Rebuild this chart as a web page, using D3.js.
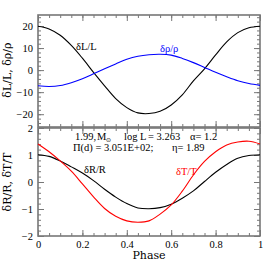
<!DOCTYPE html>
<html>
<head>
<meta charset="utf-8">
<script src="https://cdn.jsdelivr.net/npm/d3@7"></script>
<style>
  body { margin: 0; background: #fff; }
  text { font-family: "Liberation Serif", serif; }
</style>
</head>
<body>
<div class="chart"></div>
<script>
// pulsation phase and the four relative variations
var phase = [0, 0.05, 0.1, 0.15, 0.2, 0.25, 0.3, 0.35, 0.4, 0.45, 0.5,
             0.55, 0.6, 0.65, 0.7, 0.75, 0.8, 0.85, 0.9, 0.95, 1];
var dL = [19.9, 18.7, 15.8, 11.2, 5.4, -1.0, -7.1, -12.9, -17.0, -19.4, -19.7,
          -18.7, -15.8, -11.2, -4.9, 0.6, 6.9, 12.8, 17.0, 19.2, 19.9];
var dRho = [-7.1, -7.4, -7.0, -5.7, -3.9, -1.7, 0.6, 2.8, 4.9, 6.3, 7.0,
            7.2, 6.8, 5.3, 3.4, 1.2, -1.0, -3.0, -4.8, -6.1, -6.9];
var dR = [1.01, 0.95, 0.78, 0.56, 0.33, 0.05, -0.27, -0.56, -0.80, -0.96, -0.99,
          -0.95, -0.82, -0.60, -0.33, 0.02, 0.36, 0.65, 0.88, 0.98, 1.01];
var dT = [1.41, 1.12, 0.78, 0.40, -0.07, -0.55, -0.98, -1.27, -1.44, -1.49, -1.44,
          -1.19, -0.85, -0.34, 0.26, 0.76, 1.12, 1.37, 1.48, 1.51, 1.41];

var xTicks = [0, 0.2, 0.4, 0.6, 0.8, 1];
var topTicks = [-20, -10, 0, 10, 20];
var botTicks = [-2, -1, 0, 1, 2];

var svgWidth = 274;
var svgHeight = 274;

var svg = d3.select(".chart")
  .append("svg")
  .attr("width", svgWidth)
  .attr("height", svgHeight);

var x = d3.scaleLinear().domain([0, 1]).range([38, 260]);
var yTop = d3.scaleLinear().domain([-25.8, 25]).range([127, 15]);
var yBot = d3.scaleLinear().domain([-2, 2]).range([236, 128]);

var frameColor = "#777";

function minor(scale, step) {
  var d = scale.domain();
  var lo = Math.min(d[0], d[1]), hi = Math.max(d[0], d[1]);
  return d3.range(Math.ceil(lo / step) * step, hi + 1e-9, step);
}

// draws one panel: frame, inward ticks on all sides, labels left (and bottom)
function panel(y, majors, minorStep, showX) {
  var x0 = x.range()[0], x1 = x.range()[1];
  var yb = y.range()[0], yt = y.range()[1];
  var g = svg.append("g");

  var sides = [
    { axis: d3.axisBottom, scale: x, t: "translate(0," + yb + ")", maj: xTicks, mstep: 0.05, lab: showX },
    { axis: d3.axisTop, scale: x, t: "translate(0," + yt + ")", maj: xTicks, mstep: 0.05, lab: false },
    { axis: d3.axisLeft, scale: y, t: "translate(" + x0 + ",0)", maj: majors, mstep: minorStep, lab: true },
    { axis: d3.axisRight, scale: y, t: "translate(" + x1 + ",0)", maj: majors, mstep: minorStep, lab: false }
  ];

  sides.forEach(function(s) {
    var ag = g.append("g").attr("transform", s.t);
    ag.append("g")
      .call(s.axis(s.scale).tickValues(minor(s.scale, s.mstep)).tickSize(-3).tickFormat(""))
      .call(function(a) { a.select(".domain").remove(); });
    var mg = ag.append("g")
      .call(s.axis(s.scale).tickValues(s.maj).tickSize(-6).tickPadding(5)
        .tickFormat(s.lab ? d3.format("") : ""))
      .call(function(a) { a.select(".domain").remove(); });
    ag.selectAll("line").attr("stroke", frameColor).attr("stroke-width", 1);
    mg.selectAll("text")
      .style("font-family", "Liberation Serif, serif")
      .style("font-size", "10.5px")
      .attr("fill", "#000");
  });

  g.append("rect")
    .attr("x", x0).attr("y", yt)
    .attr("width", x1 - x0).attr("height", yb - yt)
    .attr("fill", "none")
    .attr("stroke", frameColor)
    .attr("stroke-width", 1.6);
  return g;
}

panel(yTop, topTicks, 2, false);
panel(yBot, botTicks, 0.2, true);

function curve(y, values, color) {
  var line = d3.line()
    .x(function(d, i) { return x(phase[i]); })
    .y(function(d) { return y(d); })
    .curve(d3.curveCatmullRom);
  svg.append("path")
    .datum(values)
    .attr("d", line)
    .attr("fill", "none")
    .attr("stroke", color)
    .attr("stroke-width", 1.1);
}

curve(yTop, dL, "#000");
curve(yTop, dRho, "#0000ff");
curve(yBot, dR, "#000");
curve(yBot, dT, "#ff0000");

// curve labels
function label(xp, yp, txt, color) {
  svg.append("text")
    .attr("x", xp).attr("y", yp)
    .attr("fill", color)
    .style("font-size", "10.5px")
    .text(txt);
}
label(76, 50, "δL/L", "#000");
label(160, 52, "δρ/ρ", "#0000ff");
label(84, 173, "δR/R", "#000");
label(176, 175, "δT/T", "#ff0000");

// model parameters
var info = svg.append("g").style("font-size", "10.5px").attr("fill", "#000");
info.append("text").attr("x", 75).attr("y", 140).text("1.99,");
var m = info.append("text").attr("x", 97).attr("y", 140);
m.append("tspan").text("M");
m.append("tspan").attr("dy", 2).style("font-size", "6px").text("⊙");
info.append("text").attr("x", 124).attr("y", 140).text("log L");
info.append("text").attr("x", 148).attr("y", 140).text("= 3.263");
info.append("text").attr("x", 190).attr("y", 140).text("α= 1.2");
info.append("text").attr("x", 73).attr("y", 151).text("Π(d) = 3.051E+02;");
info.append("text").attr("x", 172).attr("y", 151).text("η= 1.89");

// axis titles
svg.append("text")
  .attr("transform", "translate(11," + yTop(0) + ") rotate(-90)")
  .attr("text-anchor", "middle")
  .style("font-family", "DejaVu Serif, serif")
  .style("font-size", "11px")
  .text("δL/L, δρ/ρ");
svg.append("text")
  .attr("transform", "translate(11," + yBot(0) + ") rotate(-90)")
  .attr("text-anchor", "middle")
  .style("font-family", "DejaVu Serif, serif")
  .style("font-size", "11px")
  .text("δR/R, δT/T");
svg.append("text")
  .attr("x", x(0.5)).attr("y", 259)
  .attr("text-anchor", "middle")
  .style("font-family", "DejaVu Serif, serif")
  .style("font-size", "11px")
  .text("Phase");
</script>
</body>
</html>
